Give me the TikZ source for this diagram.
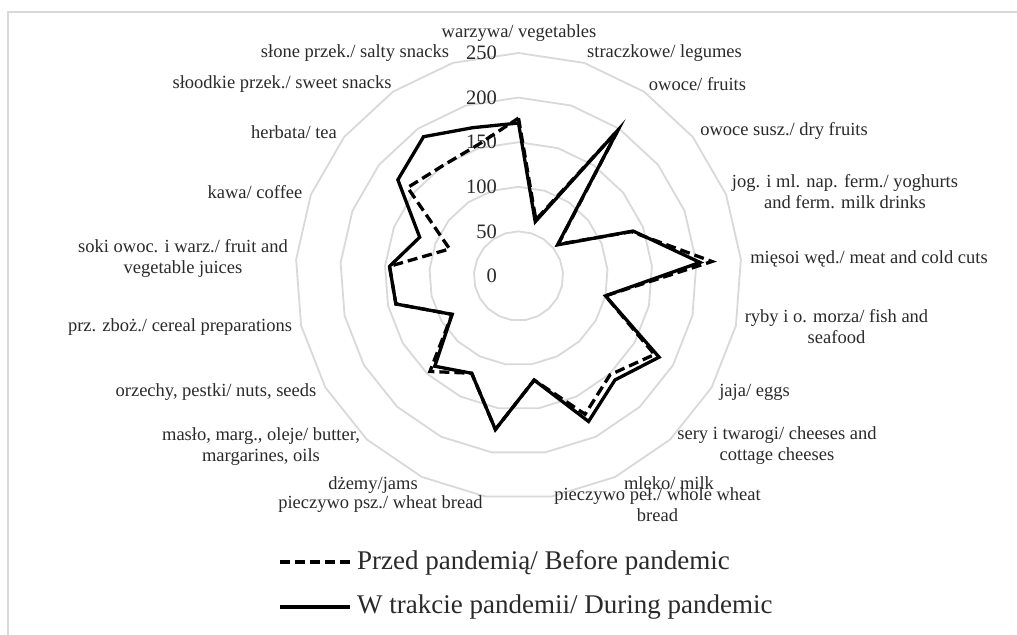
\documentclass[tikz,border=0pt]{standalone}
\usepackage{fontspec}
\setmainfont{Liberation Serif}
\definecolor{ringgray}{HTML}{D9D9D9}
\definecolor{txt}{HTML}{2A2A2A}
\begin{document}
\begin{tikzpicture}[x=1bp,y=-1bp,
  ring/.style={draw=ringgray,line width=1.8bp},
  during/.style={draw=black,line width=3.3bp,line join=miter},
  before/.style={draw=black,line width=3.3bp,dash pattern=on 10bp off 5bp},
  cat/.style={text=txt,font=\fontsize{18.5bp}{21bp}\selectfont,align=center,inner sep=0pt},
  ticklab/.style={text=txt,font=\fontsize{20.5bp}{22bp}\selectfont,anchor=east,inner sep=0pt},
  leg/.style={text=txt,font=\fontsize{27bp}{30bp}\selectfont,anchor=west,inner sep=0pt}]
\useasboundingbox (0,0) rectangle (1017,635);
\fill[white] (0,0) rectangle (1017,635);
\draw[ringgray,line width=1.4bp] (8,635) -- (8,12) -- (1017,12);

\begin{scope}[shift={(518.5,276)}]
  \foreach \k in {1,...,5} {
    \pgfmathsetmacro\r{\k*44.6}
    \draw[ring] (0,-\r) \foreach \i in {1,...,20}{ -- ({\r*sin(\i*360/21)},{-\r*cos(\i*360/21)}) } -- cycle;
  }
  \foreach \k/\lab in {0/0,1/50,2/100,3/150,4/200,5/250} {
    \node[ticklab] (tk\k) at (-21.5,{-\k*44.6}) {\lab};
  }
  \foreach \v [count=\i from 0] in {171.5,63.7,198,56,138,204,100,182,159,181,118,174,121,138,86,141,145,119,173,189,174} {
    \coordinate (s\i) at ({0.892*\v*sin(\i*360/21)},{-0.892*\v*cos(\i*360/21)});
  }
  \foreach \v [count=\i from 0] in {177,66,198,57,136,217.5,100,176,151,172,118,174,121,146,86,141,145,83,159,150,154} {
    \coordinate (p\i) at ({0.892*\v*sin(\i*360/21)},{-0.892*\v*cos(\i*360/21)});
  }
  \draw[before] (p0) \foreach \i in {1,...,20}{ -- (p\i)} -- cycle;
  \draw[during] (s0) \foreach \i in {1,...,20}{ -- (s\i)} -- cycle;
\end{scope}

\node[cat] (c0) at (519,33) {warzywa/ vegetables};
\node[cat] (c1) at (664.5,53) {straczkowe/ legumes};
\node[cat] (c2) at (697.5,84) {owoce/ fruits};
\node[cat] (c3) at (784,131) {owoce susz./ dry fruits};
\node[cat] (c4) at (845,192) {jog. i ml. nap. ferm./ yoghurts\\and ferm. milk drinks};
\node[cat] (c5) at (869,259) {mięsoi węd./ meat and cold cuts};
\node[cat] (c6) at (836.5,327) {ryby i o. morza/ fish and\\seafood};
\node[cat] (c7) at (754.5,392) {jaja/ eggs};
\node[cat] (c8) at (777,445.5) {sery i twarogi/ cheeses and\\cottage cheeses};
\node[cat] (c9) at (669,483) {mleko/ milk};
\node[cat] (c10) at (657.5,505) {pieczywo peł./ whole wheat\\bread};
\node[cat] (c11) at (380.5,504) {pieczywo psz./ wheat bread};
\node[cat] (c12) at (373,485) {dżemy/jams};
\node[cat] (c13) at (261,446.5) {masło, marg., oleje/ butter,\\margarines, oils};
\node[cat] (c14) at (216,392) {orzechy, pestki/ nuts, seeds};
\node[cat] (c15) at (180,327) {prz. zboż./ cereal preparations};
\node[cat] (c16) at (183,258) {soki owoc. i warz./ fruit and\\vegetable juices};
\node[cat] (c17) at (255,192) {kawa/ coffee};
\node[cat] (c18) at (294,132) {herbata/ tea};
\node[cat] (c19) at (282,84) {słoodkie przek./ sweet snacks};
\node[cat] (c20) at (355,53) {słone przek./ salty snacks};

\coordinate (l1a) at (280,562);
\coordinate (l1b) at (350,562);
\draw[before] (l1a) -- (l1b);
\node[leg] (t1) at (357,563) {Przed pandemią/ Before pandemic};
\coordinate (l2a) at (280,607);
\coordinate (l2b) at (350,607);
\draw[during] (l2a) -- (l2b);
\node[leg] (t2) at (357,607) {W trakcie pandemii/ During pandemic};
\end{tikzpicture}
\end{document}
